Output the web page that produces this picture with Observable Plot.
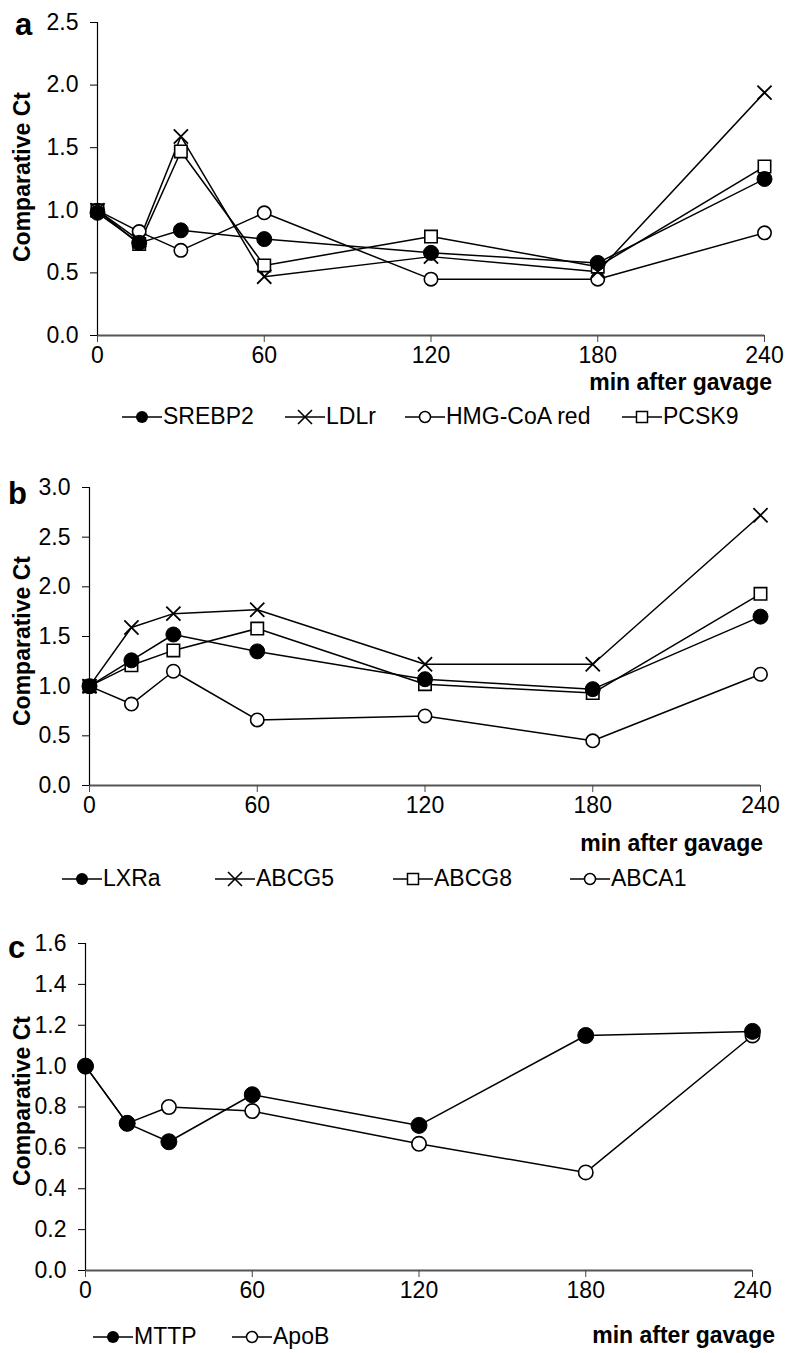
<!DOCTYPE html>
<html>
<head>
<meta charset="utf-8">
<script src="https://cdn.jsdelivr.net/npm/d3@7"></script>
<script src="https://cdn.jsdelivr.net/npm/@observablehq/plot@0.6"></script>
<style>
  body { margin: 0; background: #fff; }
  #root { position: relative; width: 786px; height: 1353px; overflow: hidden; font-family: "Liberation Sans", Arial, sans-serif; color: #000; }
  .panel { position: absolute; left: 0; }
  .ylab { position: absolute; font-weight: bold; font-size: 23px; white-space: nowrap; transform: translate(-50%, -50%) rotate(-90deg); }
  .plab { position: absolute; font-weight: bold; font-size: 31px; line-height: 1; white-space: nowrap; }
  .xlab { position: absolute; font-weight: bold; font-size: 23px; line-height: 1; white-space: nowrap; transform: translateX(-100%); }
  .leg { position: absolute; font-size: 23px; line-height: 1; display: flex; align-items: center; white-space: nowrap; }
  .leg svg { display: block; margin-right: 1px; }
</style>
</head>
<body>
<div id="root"></div>
<script>
// ---- data ----
const times = [0, 15, 30, 60, 120, 180, 240];
const xTicks = [0, 60, 120, 180, 240];

// panel a
const srebp2 = [0.98, 0.74, 0.84, 0.77, 0.66, 0.58, 1.25];
const ldlr   = [1.00, 0.76, 1.59, 0.47, 0.63, 0.51, 1.94];
const hmgcoa = [1.00, 0.83, 0.68, 0.98, 0.45, 0.45, 0.82];
const pcsk9  = [1.00, 0.73, 1.47, 0.56, 0.79, 0.55, 1.35];

// panel b
const lxra  = [1.00, 1.26, 1.52, 1.35, 1.07, 0.97, 1.70];
const abcg5 = [1.00, 1.59, 1.73, 1.77, 1.22, 1.22, 2.72];
const abcg8 = [1.00, 1.21, 1.36, 1.58, 1.02, 0.93, 1.93];
const abca1 = [1.00, 0.82, 1.15, 0.66, 0.70, 0.45, 1.12];

// panel c
const mttp = [1.00, 0.72, 0.63, 0.86, 0.71, 1.15, 1.17];
const apob = [1.00, 0.72, 0.80, 0.78, 0.62, 0.48, 1.15];

const yTicksA = [0, 0.5, 1.0, 1.5, 2.0, 2.5];
const yTicksB = [0, 0.5, 1.0, 1.5, 2.0, 2.5, 3.0];
const yTicksC = [0, 0.2, 0.4, 0.6, 0.8, 1.0, 1.2, 1.4, 1.6];

const panels = [
  {
    label: "a", top: 0, height: 400, mL: 97, mR: 22, mT: 22, mB: 65, yMax: 2.5, yTicks: yTicksA, r: 7.5,
    series: [
      {name: "SREBP2", values: srebp2, kind: "filled"},
      {name: "LDLr", values: ldlr, kind: "times"},
      {name: "HMG-CoA red", values: hmgcoa, kind: "open"},
      {name: "PCSK9", values: pcsk9, kind: "square"}
    ],
    labelPos: [15, 9], ylabY: 177,
    xlabPos: [772, 371],
    legendY: 416, legendX: [122, 285, 405, 622]
  },
  {
    label: "b", top: 440, height: 400, mL: 89, mR: 26, mT: 47, mB: 55, yMax: 3.0, yTicks: yTicksB, r: 7.5,
    series: [
      {name: "LXRa", values: lxra, kind: "filled"},
      {name: "ABCG5", values: abcg5, kind: "times"},
      {name: "ABCG8", values: abcg8, kind: "square"},
      {name: "ABCA1", values: abca1, kind: "open"}
    ],
    labelPos: [8, 478], ylabY: 641,
    xlabPos: [763, 832],
    legendY: 878, legendX: [62, 215, 393, 570]
  },
  {
    label: "c", top: 900, height: 400, mL: 85, mR: 34, mT: 43, mB: 30, yMax: 1.6, yTicks: yTicksC, r: 8,
    series: [
      {name: "MTTP", values: mttp, kind: "filled"},
      {name: "ApoB", values: apob, kind: "open"}
    ],
    labelPos: [8, 932], ylabY: 1101,
    xlabPos: [775, 1324],
    legendY: 1336, legendX: [93, 232]
  }
];

const root = document.getElementById("root");
const drawOrder = {open: 0, square: 1, times: 2, filled: 3};

function dotMark(rows, kind, r) {
  const base = {x: "t", y: "v", r};
  if (kind === "filled") return Plot.dot(rows, {...base, fill: "#000", stroke: "#000", strokeWidth: 1});
  if (kind === "open") return Plot.dot(rows, {...base, fill: "#fff", stroke: "#000", strokeWidth: 1.6, r: r - 0.8});
  if (kind === "square") return Plot.dot(rows, {...base, symbol: "square", fill: "#fff", stroke: "#000", strokeWidth: 1.6, r: r - 0.5});
  return Plot.dot(rows, {...base, symbol: "times", stroke: "#000", strokeWidth: 1.8, r: r - 1});
}

function legendSymbol(kind) {
  const w = 40, h = 20, cx = 20, cy = 10;
  let m = "";
  if (kind === "filled") m = `<circle cx="${cx}" cy="${cy}" r="6" fill="#000"/>`;
  else if (kind === "open") m = `<circle cx="${cx}" cy="${cy}" r="5.5" fill="#fff" stroke="#000" stroke-width="1.5"/>`;
  else if (kind === "square") m = `<rect x="${cx-5.5}" y="${cy-5.5}" width="11" height="11" fill="#fff" stroke="#000" stroke-width="1.5"/>`;
  else m = `<path d="M${cx-7},${cy-7}L${cx+7},${cy+7}M${cx-7},${cy+7}L${cx+7},${cy-7}" stroke="#000" stroke-width="1.6"/>`;
  return `<svg width="${w}" height="${h}"><line x1="0" y1="${cy}" x2="${w}" y2="${cy}" stroke="#000" stroke-width="1.6"/>${m}</svg>`;
}

for (const p of panels) {
  const rows = p.series.flatMap(s => times.map((t, i) => ({s: s.name, t, v: s.values[i], kind: s.kind})));
  const marks = [
    Plot.ruleY([0], {stroke: "#555", strokeWidth: 2}),
    Plot.ruleX([0], {stroke: "#000", strokeWidth: 1.2}),
    Plot.axisX({ticks: xTicks, tickSize: 7, tickPadding: 4, fontSize: 23, label: null, stroke: "#444"}),
    Plot.axisY({ticks: p.yTicks, tickSize: 7, tickPadding: 12, fontSize: 23, label: null, tickFormat: d => d.toFixed(1)}),
    Plot.line(rows, {x: "t", y: "v", z: "s", stroke: "#000", strokeWidth: 1.5})
  ];
  const ordered = [...p.series].sort((a, b) => drawOrder[a.kind] - drawOrder[b.kind]);
  for (const s of ordered) {
    marks.push(dotMark(rows.filter(d => d.s === s.name), s.kind, p.r));
  }
  const chart = Plot.plot({
    width: 786, height: p.height,
    marginLeft: p.mL, marginRight: p.mR, marginTop: p.mT, marginBottom: p.mB,
    x: {domain: [0, 240], label: null},
    y: {domain: [0, p.yMax], label: null},
    style: {fontFamily: '"Liberation Sans", Arial, sans-serif', fontSize: "23px", color: "#000", background: "transparent", overflow: "visible"},
    marks
  });
  chart.classList.add("panel");
  chart.style.top = p.top + "px";
  root.appendChild(chart);

  const pl = document.createElement("div");
  pl.className = "plab"; pl.textContent = p.label;
  pl.style.left = p.labelPos[0] + "px"; pl.style.top = p.labelPos[1] + "px";
  root.appendChild(pl);

  const yl = document.createElement("div");
  yl.className = "ylab"; yl.textContent = "Comparative Ct";
  yl.style.left = "22px"; yl.style.top = p.ylabY + "px";
  root.appendChild(yl);

  const xl = document.createElement("div");
  xl.className = "xlab"; xl.textContent = "min after gavage";
  xl.style.left = p.xlabPos[0] + "px"; xl.style.top = p.xlabPos[1] + "px";
  root.appendChild(xl);

  p.series.forEach((s, i) => {
    const lg = document.createElement("div");
    lg.className = "leg";
    lg.innerHTML = legendSymbol(s.kind) + `<span>${s.name}</span>`;
    lg.style.left = p.legendX[i] + "px";
    lg.style.top = (p.legendY - 11) + "px";
    root.appendChild(lg);
  });
}
</script>
</body>
</html>
